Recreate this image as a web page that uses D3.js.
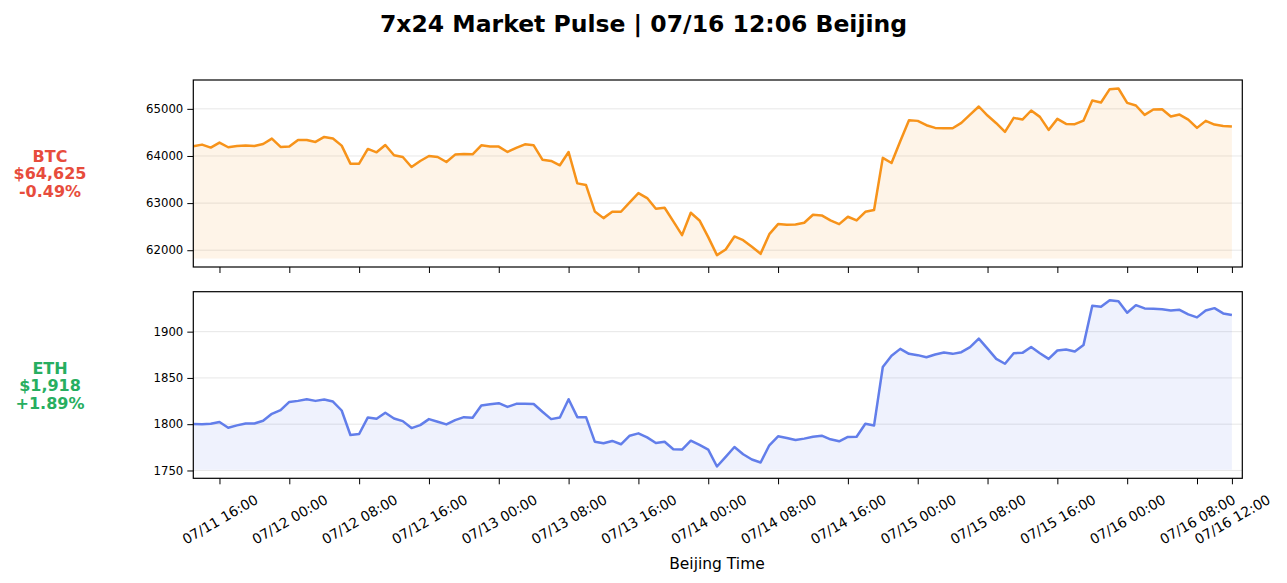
<!DOCTYPE html>
<html>
<head>
<meta charset="utf-8">
<script src="https://cdn.jsdelivr.net/npm/d3@7"></script>
<style>
  html, body { margin: 0; padding: 0; background: #ffffff; }
  svg { display: block; font-family: "DejaVu Sans", sans-serif; }
</style>
</head>
<body>
<svg id="chart" width="1287" height="583"></svg>
<script>
// ---------------- DATA ----------------
const chartTitle = "7x24 Market Pulse | 07/16 12:06 Beijing";
const xAxisTitle = "Beijing Time";
const startTime = "2024-07-11 13:00"; // first hourly sample (Beijing time)

const btcValues = [
  64206, 64241, 64178, 64284, 64185, 64213, 64220, 64213, 64255, 64369,
  64192, 64199, 64341, 64341, 64298, 64404, 64369, 64220, 63837, 63837,
  64149, 64078, 64234, 64014, 63979, 63766, 63894, 64000, 63979, 63873,
  64029, 64043, 64036, 64227, 64199, 64199, 64085, 64170, 64248, 64227,
  63922, 63894, 63802, 64085, 63419, 63383, 62823, 62681, 62816, 62816,
  63015, 63213, 63107, 62880, 62901, 62611, 62320, 62795, 62632, 62277,
  61895, 62015, 62292, 62214, 62072, 61923, 62341, 62554, 62540, 62547,
  62582, 62752, 62738, 62632, 62554, 62710, 62632, 62816, 62852, 63960,
  63851, 64312, 64759, 64745, 64653, 64596, 64589, 64589, 64702, 64879,
  65050, 64858, 64695, 64511, 64809, 64773, 64965, 64830, 64553, 64787,
  64681, 64674, 64752, 65177, 65135, 65418, 65432, 65128, 65071, 64872,
  64986, 64993, 64837, 64879, 64773, 64596, 64745, 64667, 64638, 64625
];

const ethValues = [
  1800.1, 1800.0, 1800.5, 1802.3, 1796.2, 1798.7, 1800.8, 1800.8, 1803.7, 1811.2,
  1815.2, 1824.1, 1825.2, 1827.0, 1825.2, 1826.6, 1824.5, 1814.8, 1788.3, 1789.4,
  1807.3, 1805.8, 1812.3, 1806.2, 1803.3, 1795.8, 1799.0, 1805.5, 1802.6, 1799.8,
  1804.4, 1807.6, 1806.9, 1820.2, 1821.6, 1822.7, 1818.7, 1822.0, 1822.0, 1821.8,
  1813.4, 1805.5, 1807.3, 1827.0, 1807.6, 1807.6, 1781.1, 1779.4, 1781.9, 1778.3,
  1787.6, 1790.1, 1785.8, 1779.7, 1781.1, 1772.9, 1772.6, 1782.2, 1777.6, 1772.6,
  1754.3, 1764.7, 1775.4, 1767.5, 1761.8, 1758.6, 1777.2, 1786.9, 1785.1, 1782.9,
  1784.4, 1786.5, 1787.6, 1783.7, 1781.5, 1786.2, 1786.5, 1800.5, 1798.7, 1861.8,
  1873.9, 1881.4, 1876.0, 1874.6, 1872.4, 1875.3, 1877.4, 1876.0, 1877.8, 1883.2,
  1892.5, 1881.7, 1870.6, 1865.3, 1876.7, 1877.1, 1883.5, 1876.7, 1870.6, 1879.6,
  1880.7, 1878.5, 1885.7, 1927.9, 1926.9, 1934.0, 1932.9, 1920.4, 1928.6, 1925.1,
  1924.7, 1924.3, 1922.9, 1923.6, 1918.6, 1915.4, 1922.9, 1925.4, 1919.7, 1918.0
];

const btcTicks = [62000, 63000, 64000, 65000];
const ethTicks = [1750, 1800, 1850, 1900];
const xTickLabels = [
  "07/11 16:00", "07/12 00:00", "07/12 08:00", "07/12 16:00", "07/13 00:00",
  "07/13 08:00", "07/13 16:00", "07/14 00:00", "07/14 08:00", "07/14 16:00",
  "07/15 00:00", "07/15 08:00", "07/15 16:00", "07/16 00:00", "07/16 08:00",
  "07/16 12:00"
];

const btcLabel = ["BTC", "$64,625", "-0.49%"];
const ethLabel = ["ETH", "$1,918", "+1.89%"];

// ---------------- SETUP ----------------
const svg = d3.select("#chart");
const parseStart = d3.utcParse("%Y-%m-%d %H:%M");
const t0 = parseStart(startTime);
const times = btcValues.map((_, i) => d3.utcHour.offset(t0, i));
const parseTick = d3.utcParse("%Y/%m/%d %H:%M");
const tickDates = xTickLabels.map(s => parseTick("2024/" + s));
const fmtTick = d3.utcFormat("%m/%d %H:%M");

const tEnd = times[times.length - 1];
const span = tEnd - t0;
const x = d3.scaleUtc()
  .domain([t0, new Date(+tEnd + span * 0.01)])
  .range([193.3, 1242.3]);

svg.append("text")
  .attr("x", 643.5).attr("y", 32)
  .attr("text-anchor", "middle")
  .attr("font-size", 23.5).attr("font-weight", "bold")
  .attr("fill", "#000")
  .text(chartTitle);

function panel(values, ticks, top, bottom, lineColor, showXLabels, label, labelColor, labelY) {
  const mn = d3.min(values), mx = d3.max(values), r = mx - mn;
  const base = mn - 0.02 * r;
  const y = d3.scaleLinear()
    .domain([mn - 0.071 * r, mx + 0.051 * r])
    .range([bottom, top]);

  const g = svg.append("g");
  const clipId = "clip" + Math.round(top);
  svg.append("clipPath").attr("id", clipId)
    .append("rect").attr("x", x.range()[0]).attr("y", top)
    .attr("width", x.range()[1] - x.range()[0]).attr("height", bottom - top);

  // grid
  g.append("g").selectAll("line").data(ticks).join("line")
    .attr("x1", x.range()[0]).attr("x2", x.range()[1])
    .attr("y1", d => y(d)).attr("y2", d => y(d))
    .attr("stroke", "#b0b0b0").attr("stroke-opacity", 0.3).attr("stroke-width", 1);

  const plot = g.append("g").attr("clip-path", `url(#${clipId})`);
  const data = values.map((v, i) => [times[i], v]);
  plot.append("path")
    .datum(data)
    .attr("d", d3.area().x(d => x(d[0])).y0(y(base)).y1(d => y(d[1])))
    .attr("fill", lineColor).attr("fill-opacity", 0.1);
  plot.append("path")
    .datum(data)
    .attr("d", d3.line().x(d => x(d[0])).y(d => y(d[1])))
    .attr("fill", "none").attr("stroke", lineColor)
    .attr("stroke-width", 2.5).attr("stroke-linejoin", "round");

  // y axis
  const ya = g.append("g").attr("transform", `translate(${x.range()[0]},0)`)
    .call(d3.axisLeft(y).tickValues(ticks).tickSize(6).tickPadding(4).tickFormat(d3.format("d")));
  ya.select(".domain").remove();
  ya.selectAll("line").attr("stroke", "#000").attr("stroke-width", 1);
  ya.selectAll("text").attr("font-size", 11.7).attr("fill", "#000")
    .attr("font-family", "DejaVu Sans");

  // x axis
  const xa = g.append("g").attr("transform", `translate(0,${bottom})`)
    .call(d3.axisBottom(x).tickValues(tickDates).tickSize(6).tickFormat(showXLabels ? fmtTick : ""));
  xa.select(".domain").remove();
  xa.selectAll("line").attr("stroke", "#000").attr("stroke-width", 1);
  if (showXLabels) {
    xa.selectAll("text")
      .attr("font-size", 13.9).attr("fill", "#000")
      .attr("font-family", "DejaVu Sans")
      .attr("text-anchor", "middle")
      .attr("dy", null)
      .attr("y", 0)
      .attr("transform", "translate(0,41) rotate(-30)")
      .attr("dominant-baseline", "central");
  }

  // frame
  g.append("rect")
    .attr("x", x.range()[0]).attr("y", top)
    .attr("width", x.range()[1] - x.range()[0]).attr("height", bottom - top)
    .attr("fill", "none").attr("stroke", "#000").attr("stroke-width", 1.2);

  // side label
  const t = svg.append("text")
    .attr("text-anchor", "middle")
    .attr("font-size", 16).attr("font-weight", "bold")
    .attr("fill", labelColor);
  label.forEach((s, i) => {
    t.append("tspan").attr("x", 50).attr("y", labelY + i * 17.6).text(s);
  });
}

panel(btcValues, btcTicks, 80, 267, "#f7931a", false, btcLabel, "#e74c3c", 161.5);
panel(ethValues, ethTicks, 291.7, 478.3, "#627eea", true, ethLabel, "#27ae60", 373.5);

svg.append("text")
  .attr("x", 717).attr("y", 568.5)
  .attr("text-anchor", "middle")
  .attr("font-size", 15.5).attr("fill", "#000")
  .text(xAxisTitle);
</script>
</body>
</html>
